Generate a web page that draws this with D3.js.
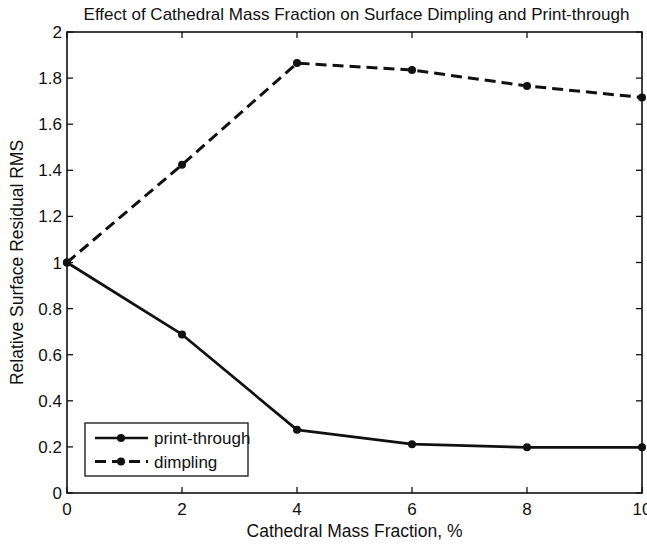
<!DOCTYPE html>
<html>
<head>
<meta charset="utf-8">
<script src="https://cdn.jsdelivr.net/npm/d3@7"></script>
<style>
  html, body { margin: 0; padding: 0; background: #fff; }
  svg { display: block; font-family: "Liberation Sans", Arial, sans-serif; }
</style>
</head>
<body>
<svg id="chart" width="647" height="548"></svg>
<script>
// Cathedral mass fraction (%) and relative surface residual RMS
const massFraction = [0, 2, 4, 6, 8, 10];
const printThrough = [1.0, 0.688, 0.274, 0.212, 0.198, 0.198];
const dimpling = [1.0, 1.424, 1.865, 1.835, 1.766, 1.716];
const xTicks = [0, 2, 4, 6, 8, 10];
const yTicks = [0, 0.2, 0.4, 0.6, 0.8, 1, 1.2, 1.4, 1.6, 1.8, 2];

const svg = d3.select("#chart");
const margin = { left: 67, right: 5, top: 32, bottom: 55 };
const W = 647, H = 548;
const x = d3.scaleLinear().domain([0, 10]).range([margin.left, W - margin.right]);
const y = d3.scaleLinear().domain([0, 2]).range([H - margin.bottom, margin.top]);
const ink = "#111";

// axes box
svg.append("rect")
  .attr("x", x(0)).attr("y", y(2))
  .attr("width", x(10) - x(0)).attr("height", y(0) - y(2))
  .attr("fill", "none").attr("stroke", ink).attr("stroke-width", 1.6);

const tickLen = 6;
const fmt = d => d3.format("~g")(d);

// x ticks (bottom + mirrored top)
const xg = svg.append("g");
xTicks.forEach(t => {
  xg.append("line").attr("x1", x(t)).attr("x2", x(t))
    .attr("y1", y(0)).attr("y2", y(0) - tickLen).attr("stroke", ink).attr("stroke-width", 1.3);
  xg.append("line").attr("x1", x(t)).attr("x2", x(t))
    .attr("y1", y(2)).attr("y2", y(2) + tickLen).attr("stroke", ink).attr("stroke-width", 1.3);
  xg.append("text").attr("x", x(t)).attr("y", y(0) + 22)
    .attr("text-anchor", "middle").attr("font-size", 17).attr("fill", ink).text(fmt(t));
});

// y ticks (left + mirrored right)
const yg = svg.append("g");
yTicks.forEach(t => {
  yg.append("line").attr("x1", x(0)).attr("x2", x(0) + tickLen)
    .attr("y1", y(t)).attr("y2", y(t)).attr("stroke", ink).attr("stroke-width", 1.3);
  yg.append("line").attr("x1", x(10)).attr("x2", x(10) - tickLen)
    .attr("y1", y(t)).attr("y2", y(t)).attr("stroke", ink).attr("stroke-width", 1.3);
  yg.append("text").attr("x", x(0) - 5).attr("y", y(t) + 6)
    .attr("text-anchor", "end").attr("font-size", 17).attr("fill", ink).text(fmt(t));
});

// titles
svg.append("text").attr("x", (x(0) + x(10)) / 2 + 2).attr("y", 20)
  .attr("text-anchor", "middle").attr("font-size", 17).attr("fill", ink)
  .text("Effect of Cathedral Mass Fraction on Surface Dimpling and Print-through");
svg.append("text").attr("x", (x(0) + x(10)) / 2).attr("y", 537)
  .attr("text-anchor", "middle").attr("font-size", 17.5).attr("fill", ink)
  .text("Cathedral Mass Fraction, %");
svg.append("text")
  .attr("transform", `translate(23,${(y(0) + y(2)) / 2}) rotate(-90)`)
  .attr("text-anchor", "middle").attr("font-size", 17.5).attr("fill", ink)
  .text("Relative Surface Residual RMS");

// series
const line = d3.line().x((d, i) => x(massFraction[i])).y(d => y(d));
const series = [
  { name: "print-through", values: printThrough, dash: null, width: 2.7 },
  { name: "dimpling", values: dimpling, dash: "11,6", width: 3 }
];
series.forEach(s => {
  svg.append("path").attr("d", line(s.values))
    .attr("fill", "none").attr("stroke", ink).attr("stroke-width", s.width)
    .attr("stroke-dasharray", s.dash).attr("stroke-linejoin", "round");
  svg.selectAll(null).data(s.values).enter().append("circle")
    .attr("cx", (d, i) => x(massFraction[i])).attr("cy", d => y(d))
    .attr("r", 4).attr("fill", ink);
});

// legend
const lg = svg.append("g");
lg.append("rect").attr("x", 85).attr("y", 423).attr("width", 163).attr("height", 53)
  .attr("fill", "#fff").attr("stroke", ink).attr("stroke-width", 1.3);
series.forEach((s, i) => {
  const ly = 438 + i * 23.5;
  lg.append("line").attr("x1", 95).attr("x2", 148).attr("y1", ly).attr("y2", ly)
    .attr("stroke", ink).attr("stroke-width", s.width).attr("stroke-dasharray", s.dash);
  lg.append("circle").attr("cx", 121).attr("cy", ly).attr("r", 4).attr("fill", ink);
  lg.append("text").attr("x", 154).attr("y", ly + 6).attr("font-size", 17).attr("fill", ink).text(s.name);
});
</script>
</body>
</html>
